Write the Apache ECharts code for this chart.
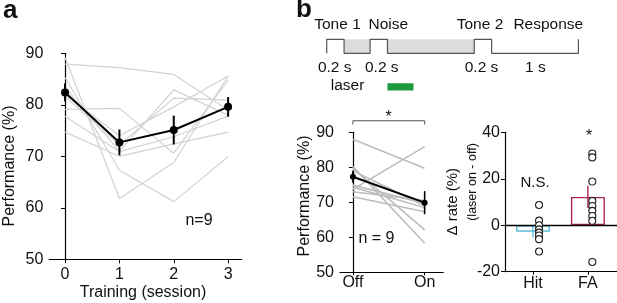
<!DOCTYPE html>
<html><head><meta charset="utf-8">
<script src="https://cdn.jsdelivr.net/npm/echarts@6/dist/echarts.min.js"></script>
<style>html,body{margin:0;padding:0;background:#fff}#c{width:617px;height:303px}</style>
</head><body><div id="c"></div>
<script>
// ---------- Panel a ----------
const sessions = [0, 1, 2, 3];
const sessionLabels = ['0', '1', '2', '3'];
const indivA1 = [87.9, 87.2, 85.9, 79.0];
const indivA2 = [89.2, 61.8, 68.8, 85.6];
const indivA3 = [85.3, 67.3, 61.2, 69.9];
const indivA4 = [79.1, 79.3, 70.6, 84.8];
const indivA5 = [83.4, 71.0, 82.9, 78.0];
const indivA6 = [81.6, 72.2, 81.3, 80.9];
const indivA7 = [77.8, 70.9, 73.8, 77.8];
const indivA8 = [74.7, 70.0, 72.4, 74.7];
const indivA9 = [82.0, 74.0, 79.6, 85.6];
const meanA = [82.4, 72.7, 75.1, 79.6];
const semA = [1.75, 2.5, 2.8, 1.9];

// ---------- Panel b: schedule ----------
const schedTimes  = [0, 0, 0.2, 0.2, 0.5, 0.5, 0.7, 0.7, 1.7, 1.7, 1.9, 1.9, 2.9, 2.9];
const schedLevels = [0, 1, 1,   0,   0,   1,   1,   0,   0,   1,   1,   0,   0,   1];
const shadeSpans = [[0.2, 0.5], [0.7, 1.7]];
const laserSpan = [0.7, 1.0];
const laserLevel = -2.4;

// ---------- Panel b: laser off/on ----------
const laserConds = ['Off', 'On'];
const indivB1 = [88.0, 79.7];
const indivB2 = [73.7, 85.9];
const indivB3 = [80.2, 58.3];
const indivB4 = [79.7, 62.1];
const indivB5 = [74.9, 69.7];
const indivB6 = [74.3, 68.5];
const indivB7 = [71.6, 67.3];
const indivB8 = [73.0, 70.5];
const indivB9 = [79.0, 69.0];
const meanB = [77.3, 69.9];
const semB = [1.7, 3.3];

// ---------- Panel b: delta rate ----------
const rateGroups = ['Hit', 'FA'];
const rateMeans = [-2.8, 12.2];
const rateSem = [2.5, 4.8];
const hitPoints = [8.7, 2.0, 0.0, -1.8, -3.2, -4.4, -6.0, -11.3];
const faPoints = [30.9, 29.2, 18.8, 10.5, 8.3, 6.2, 4.0, 1.9, -15.8];

const FONT = "'Liberation Sans', Arial, sans-serif";
const TXT = '#111';
const groupColors = ['#5bbfdc', '#b0264a'];

const chart = echarts.init(document.getElementById('c'), null, {renderer: 'canvas'});

function errBars(xi, yi, xs, means, sems, colors, width, z) {
  return {
    type: 'custom', xAxisIndex: xi, yAxisIndex: yi, z: z || 5,
    encode: {x: 0, y: [1, 2]},
    data: xs.map((x, i) => [x, means[i] - sems[i], means[i] + sems[i], i]),
    renderItem: (params, api) => {
      const a = api.coord([api.value(0), api.value(1)]);
      const b = api.coord([api.value(0), api.value(2)]);
      const c = Array.isArray(colors) ? colors[api.value(3)] : colors;
      return {type: 'line', shape: {x1: a[0], y1: a[1], x2: b[0], y2: b[1]},
              style: {stroke: c, lineWidth: width}};
    }
  };
}

const indivA = [indivA1, indivA2, indivA3, indivA4, indivA5, indivA6, indivA7, indivA8, indivA9];
const indivB = [indivB1, indivB2, indivB3, indivB4, indivB5, indivB6, indivB7, indivB8, indivB9];

const axisLineStyle = {color: '#000', width: 1.2};
const baseLabel = {color: TXT, fontFamily: FONT};

const series = [];
indivA.forEach(arr => series.push({
  type: 'line', xAxisIndex: 0, yAxisIndex: 0, symbol: 'none', silent: true,
  data: sessions.map((s, i) => [s, arr[i]]),
  lineStyle: {color: '#d2d2d2', width: 1.2}, z: 1
}));
series.push(errBars(0, 0, sessions, meanA, semA, '#000', 2, 4));
series.push({
  type: 'line', xAxisIndex: 0, yAxisIndex: 0, symbol: 'circle', symbolSize: 8,
  data: sessions.map((s, i) => [s, meanA[i]]),
  lineStyle: {color: '#000', width: 2}, itemStyle: {color: '#000'}, z: 6
});

series.push({
  type: 'line', xAxisIndex: 1, yAxisIndex: 1, symbol: 'none', silent: true,
  data: schedTimes.map((t, i) => [t, schedLevels[i]]),
  lineStyle: {color: '#555', width: 1.2}, z: 3,
  markArea: {silent: true, itemStyle: {color: '#dcdcdc'},
    data: shadeSpans.map(s => [{xAxis: s[0], yAxis: 0}, {xAxis: s[1], yAxis: 1}])}
});
series.push({
  type: 'line', xAxisIndex: 1, yAxisIndex: 1, symbol: 'none', silent: true,
  data: [[laserSpan[0], laserLevel], [laserSpan[1], laserLevel]],
  lineStyle: {color: '#1e9a3c', width: 7.4, cap: 'butt'}
});

indivB.forEach(arr => series.push({
  type: 'line', xAxisIndex: 2, yAxisIndex: 2, symbol: 'none', silent: true,
  data: [[0, arr[0]], [1, arr[1]]],
  lineStyle: {color: '#bdbdbd', width: 1.6}, z: 1
}));
series.push(errBars(2, 2, [0, 1], meanB, semB, '#000', 1.6, 4));
series.push({
  type: 'line', xAxisIndex: 2, yAxisIndex: 2, symbol: 'circle', symbolSize: 6,
  data: [[0, meanB[0]], [1, meanB[1]]],
  lineStyle: {color: '#000', width: 2}, itemStyle: {color: '#000'}, z: 6
});
series.push({
  type: 'line', xAxisIndex: 2, yAxisIndex: 2, symbol: 'none', silent: true, clip: false,
  data: [[0, 92.2], [0, 93.3], [1, 93.3], [1, 92.2]],
  lineStyle: {color: '#555', width: 1}
});

series.push({
  type: 'bar', xAxisIndex: 3, yAxisIndex: 3, barWidth: 34, silent: true,
  data: rateMeans.map((m, i) => ({value: [i, m],
    itemStyle: {color: 'rgba(255,255,255,0)', borderColor: groupColors[i], borderWidth: 1.4}})),
  markLine: {silent: true, symbol: 'none', label: {show: false},
    lineStyle: {color: '#000', width: 1.3, type: 'solid'}, data: [{yAxis: 0}]},
  z: 2
});
series.push(errBars(3, 3, [0, 1], rateMeans, rateSem, groupColors, 1.4, 4));
series.push({
  type: 'scatter', xAxisIndex: 3, yAxisIndex: 3, symbol: 'circle', symbolSize: 7, silent: true,
  data: hitPoints.map(v => [0 + 0.11, v]).concat(faPoints.map(v => [1 + 0.08, v])),
  itemStyle: {color: '#fff', borderColor: '#222', borderWidth: 1.1, opacity: 1}, z: 7
});

function txt(text, x, y, size, opts) {
  return Object.assign({type: 'text', x: x, y: y, silent: true,
    style: Object.assign({text: text, fontSize: size, fontFamily: FONT, fill: TXT,
      align: 'center', verticalAlign: 'middle'}, (opts && opts.style) || {})},
    opts && opts.rotation !== undefined ? {rotation: opts.rotation} : {});
}

const option = {
  animation: false,
  backgroundColor: '#fff',
  grid: [
    {left: 49.3, top: 53.3, width: 192.4, height: 206},
    {left: 326.7, top: 11.3, width: 251.7, height: 84},
    {left: 340, top: 132.3, width: 103.3, height: 140},
    {left: 505, top: 132.3, width: 112, height: 139.4}
  ],
  xAxis: [
    {type: 'value', gridIndex: 0, min: -0.29, max: 3.25,
     axisLine: {lineStyle: axisLineStyle}, splitLine: {show: false},
     axisTick: {customValues: sessions, length: 4, lineStyle: {color: '#000'}},
     axisLabel: Object.assign({customValues: sessions, fontSize: 16, margin: 7,
       formatter: v => sessionLabels[sessions.indexOf(v)]}, baseLabel)},
    {type: 'value', gridIndex: 1, min: 0, max: 2.9, show: false},
    {type: 'value', gridIndex: 2, min: -0.18, max: 1.26,
     axisLine: {lineStyle: axisLineStyle}, splitLine: {show: false},
     axisTick: {customValues: [0, 1], length: 3, lineStyle: {color: '#000'}},
     axisLabel: Object.assign({customValues: [0, 1], fontSize: 16, margin: 2,
       formatter: v => laserConds[v]}, baseLabel)},
    {type: 'value', gridIndex: 3, min: -0.51, max: 1.53,
     axisLine: {onZero: false, lineStyle: axisLineStyle}, splitLine: {show: false},
     axisTick: {customValues: [0, 1], length: 3, lineStyle: {color: '#000'}},
     axisLabel: Object.assign({customValues: [0, 1], fontSize: 16, margin: 4,
       formatter: v => rateGroups[v]}, baseLabel)}
  ],
  yAxis: [
    {type: 'value', gridIndex: 0, min: 50, max: 90, interval: 10,
     axisLine: {show: true, lineStyle: axisLineStyle}, splitLine: {show: false},
     axisTick: {show: true, length: 4, lineStyle: {color: '#000'}},
     axisLabel: Object.assign({fontSize: 16, margin: 6}, baseLabel)},
    {type: 'value', gridIndex: 1, min: -3, max: 3, show: false},
    {type: 'value', gridIndex: 2, min: 50, max: 90, interval: 10,
     axisLine: {show: true, lineStyle: axisLineStyle}, splitLine: {show: false},
     axisTick: {show: true, length: 4, lineStyle: {color: '#000'}},
     axisLabel: Object.assign({fontSize: 16, margin: 6}, baseLabel)},
    {type: 'value', gridIndex: 3, min: -20, max: 40, interval: 20,
     axisLine: {show: true, onZero: false, lineStyle: axisLineStyle}, splitLine: {show: false},
     axisTick: {show: true, length: 4, lineStyle: {color: '#000'}},
     axisLabel: Object.assign({fontSize: 16, margin: 5}, baseLabel)}
  ],
  series: series,
  graphic: [
    txt('a', 3, 11, 26, {style: {fontWeight: 'bold', align: 'left'}}),
    txt('b', 296, 10, 26, {style: {fontWeight: 'bold', align: 'left'}}),
    txt('Performance (%)', 9.7, 166, 16, {rotation: Math.PI / 2}),
    txt('Training (session)', 143, 293, 16),
    txt('n=9', 199, 221, 16),
    txt('Tone 1', 337.5, 25, 15.5),
    txt('Noise', 388.3, 25, 15.5),
    txt('Tone 2', 480, 25, 15.5),
    txt('Response', 548.3, 25, 15.5),
    txt('0.2 s', 334.7, 68, 15.5),
    txt('0.2 s', 381.8, 68, 15.5),
    txt('0.2 s', 481.5, 68, 15.5),
    txt('1 s', 535.3, 68, 15.5),
    txt('laser', 347.5, 86, 15.5),
    txt('Performance (%)', 305, 196, 16, {rotation: Math.PI / 2}),
    txt('n = 9', 376.5, 239, 16),
    txt('*', 388.5, 117.5, 16),
    txt('Δ rate (%)', 452.5, 201.7, 15, {rotation: Math.PI / 2}),
    txt('(laser on - off)', 473, 182, 12.5, {rotation: Math.PI / 2}),
    txt('N.S.', 535, 183.3, 15),
    txt('*', 589, 136.4, 16)
  ]
};
chart.setOption(option);
</script></body></html>
